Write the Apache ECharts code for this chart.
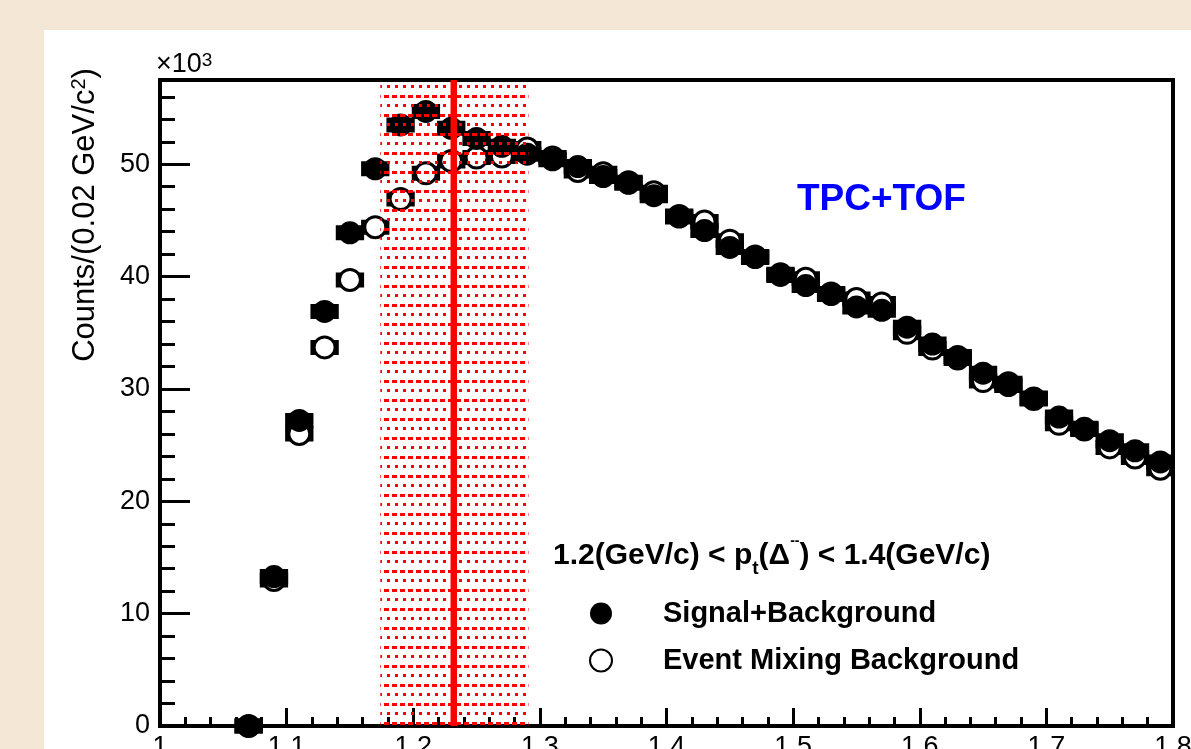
<!DOCTYPE html>
<html>
<head>
<meta charset="utf-8">
<script src="https://cdn.jsdelivr.net/npm/echarts@6/dist/echarts.min.js"></script>
<style>
  html, body { margin: 0; padding: 0; }
  body { width: 1191px; height: 749px; background: #f5e7d5; position: relative; overflow: hidden; }
  #panel { position: absolute; left: 44px; top: 30px; right: 0; bottom: 0; background: #ffffff; }
  #chart { position: absolute; left: 0; top: 0; width: 1191px; height: 749px; }
</style>
</head>
<body>
<div id="panel"></div>
<div id="chart"></div>
<script>
// p pi invariant mass spectrum, bin centres in GeV/c^2 (bin width 0.02)
const massBins = [1.07, 1.09, 1.11, 1.13, 1.15, 1.17, 1.19, 1.21, 1.23, 1.25,
                  1.27, 1.29, 1.31, 1.33, 1.35, 1.37, 1.39, 1.41, 1.43, 1.45,
                  1.47, 1.49, 1.51, 1.53, 1.55, 1.57, 1.59, 1.61, 1.63, 1.65,
                  1.67, 1.69, 1.71, 1.73, 1.75, 1.77, 1.79];

// counts per bin, in units of 10^3
const signalPlusBackground = [0, 13.3, 27.2, 36.9, 43.9, 49.6, 53.5, 54.7, 53.2, 52.3,
                              51.6, 50.9, 50.4, 49.8, 48.9, 48.3, 47.2, 45.3, 44.1, 42.6,
                              41.7, 40.1, 39.2, 38.4, 37.3, 37.0, 35.5, 34.0, 32.9, 31.4,
                              30.3, 29.2, 27.5, 26.5, 25.4, 24.5, 23.5];

const eventMixingBackground = [0, 13.0, 26.0, 33.7, 39.7, 44.4, 46.9, 49.2, 50.3, 50.6,
                               50.7, 51.4, 50.6, 49.4, 49.2, 48.4, 47.5, 45.4, 44.9, 43.2,
                               41.8, 40.2, 39.8, 38.5, 38.0, 37.6, 35.0, 33.6, 32.7, 30.7,
                               30.5, 29.1, 26.9, 26.4, 24.8, 23.9, 22.9];

// Delta(1232) mass and the shaded mass window around it
const deltaMass = [1.232];
const massWindow = [[1.174, 1.291]];

const xRange = [1.0, 1.8];
const yRange = [0, 57.5];
const seriesNames = ['Signal+Background', 'Event Mixing Background'];

const FONT = '"Liberation Sans", Arial, Helvetica, sans-serif';
const HALF_BIN = 0.01;

// red dash/dot hatch used for the mass window
function makeHatch() {
  const c = document.createElement('canvas');
  c.width = 8; c.height = 19;
  const g = c.getContext('2d');
  g.fillStyle = '#ff0000';
  g.fillRect(0, 0, 5, 3);
  g.fillRect(3, 9, 3, 3);
  return c;
}
const hatch = { type: 'pattern', image: makeHatch(), repeat: 'repeat' };

// horizontal bin-width bar behind each marker
function binBar(params, api) {
  const x = api.value(0), y = api.value(1);
  const a = api.coord([x - HALF_BIN, y]);
  const b = api.coord([x + HALF_BIN, y]);
  return {
    type: 'rect',
    shape: { x: a[0], y: a[1] - 6, width: b[0] - a[0], height: 12 },
    style: { fill: '#000', stroke: '#000', lineWidth: 3 }
  };
}

function windowBand(params, api) {
  const a = api.coord([api.value(0), yRange[0]]);
  const b = api.coord([api.value(1), yRange[1]]);
  return {
    type: 'rect',
    shape: { x: a[0], y: b[1] + 2, width: b[0] - a[0], height: a[1] - b[1] - 2 },
    style: { fill: hatch }
  };
}

function massLine(params, api) {
  const a = api.coord([api.value(0), yRange[0]]);
  const b = api.coord([api.value(0), yRange[1]]);
  return {
    type: 'line',
    shape: { x1: a[0], y1: a[1], x2: b[0], y2: b[1] },
    style: { stroke: '#ff0000', lineWidth: 6.5 }
  };
}

const pairs = vals => massBins.map((m, i) => [m, vals[i]]);

const chart = echarts.init(document.getElementById('chart'), null, { renderer: 'canvas' });

chart.setOption({
  animation: false,
  backgroundColor: 'transparent',
  grid: {
    left: 160, top: 80, right: 18, bottom: 23,
    containLabel: false, outerBoundsMode: 'none',
    show: true, borderColor: '#000', borderWidth: 4, backgroundColor: 'transparent'
  },
  xAxis: {
    type: 'value', min: xRange[0], max: xRange[1], interval: 0.1,
    axisLine: { show: true, lineStyle: { color: '#000', width: 4 } },
    axisTick: { show: true, inside: true, length: 18, lineStyle: { color: '#000', width: 3 } },
    minorTick: { show: true, splitNumber: 5, length: 9, lineStyle: { color: '#000', width: 3 } },
    splitLine: { show: false },
    axisLabel: { color: '#000', fontSize: 27, fontFamily: FONT, margin: 8 }
  },
  yAxis: [
    {
      type: 'value', min: yRange[0], max: yRange[1], interval: 10,
      axisLine: { show: true, lineStyle: { color: '#000', width: 4 } },
      axisTick: { show: true, inside: true, length: 30, lineStyle: { color: '#000', width: 3 } },
      splitLine: { show: false },
      axisLabel: {
        color: '#000', fontSize: 27, fontFamily: FONT, margin: 10,
        formatter: v => (v % 10 === 0 ? String(v) : '')
      }
    },
    {
      type: 'value', min: yRange[0], max: yRange[1], interval: 2, position: 'left',
      axisLine: { show: false },
      axisTick: { show: true, inside: true, length: 15, lineStyle: { color: '#000', width: 3 } },
      splitLine: { show: false },
      axisLabel: { show: false }
    }
  ],
  legend: {
    data: seriesNames,
    orient: 'vertical', left: 589, top: 599, padding: 0,
    itemWidth: 22, itemHeight: 22, itemGap: 18,
    selectedMode: false,
    formatter: name => '{g|}' + name,
    textStyle: {
      color: '#000', fontSize: 29, fontWeight: 'bold', fontFamily: FONT,
      rich: { g: { width: 46 } }
    }
  },
  graphic: [
    {
      type: 'text', x: 85, y: 215, rotation: Math.PI / 2,
      style: {
        text: 'Counts/(0.02 GeV/c{s|2})',
        fill: '#000', font: '31px ' + FONT,
        textAlign: 'center', textVerticalAlign: 'middle',
        rich: { s: { fontSize: 20, fontFamily: FONT, verticalAlign: 'top', lineHeight: 26 } }
      }
    },
    {
      type: 'text', x: 156, y: 65,
      style: {
        text: '\u00d710{s|3}',
        fill: '#000', font: '27px ' + FONT,
        textAlign: 'left', textVerticalAlign: 'middle',
        rich: { s: { fontSize: 19, fontFamily: FONT, verticalAlign: 'top', lineHeight: 24 } }
      }
    },
    {
      type: 'text', x: 797, y: 200,
      style: {
        text: 'TPC+TOF', fill: '#0000ff', font: 'bold 37px ' + FONT,
        textAlign: 'left', textVerticalAlign: 'middle'
      }
    },
    {
      type: 'text', x: 553, y: 556,
      style: {
        text: '1.2(GeV/c) < p{sub|t}(\u0394{sup|--}) < 1.4(GeV/c)',
        fill: '#000', font: 'bold 30px ' + FONT, lineHeight: 44,
        textAlign: 'left', textVerticalAlign: 'middle',
        rich: {
          sub: { fontSize: 19, fontWeight: 'bold', fontFamily: FONT, verticalAlign: 'bottom', lineHeight: 16 },
          sup: { fontSize: 14, fontWeight: 'bold', fontFamily: FONT, verticalAlign: 'top', lineHeight: 34 }
        }
      }
    }
  ],
  series: [
    {
      name: 'bkgBars', type: 'custom', renderItem: binBar, z: 2,
      data: pairs(eventMixingBackground), silent: true
    },
    {
      name: seriesNames[1], type: 'scatter', z: 2, clip: false,
      symbol: 'circle', symbolSize: 21,
      itemStyle: { color: '#ffffff', borderColor: '#000', borderWidth: 3, opacity: 1 },
      data: pairs(eventMixingBackground)
    },
    {
      name: 'sigBars', type: 'custom', renderItem: binBar, z: 2,
      data: pairs(signalPlusBackground), silent: true
    },
    {
      name: seriesNames[0], type: 'scatter', z: 2, clip: false,
      symbol: 'circle', symbolSize: 23,
      itemStyle: { color: '#000', opacity: 1 },
      data: pairs(signalPlusBackground)
    },
    {
      name: 'window', type: 'custom', renderItem: windowBand, z: 3,
      data: massWindow, silent: true
    },
    {
      name: 'deltaMass', type: 'custom', renderItem: massLine, z: 4,
      data: deltaMass.map(m => [m]), silent: true
    }
  ]
});
</script>
</body>
</html>
